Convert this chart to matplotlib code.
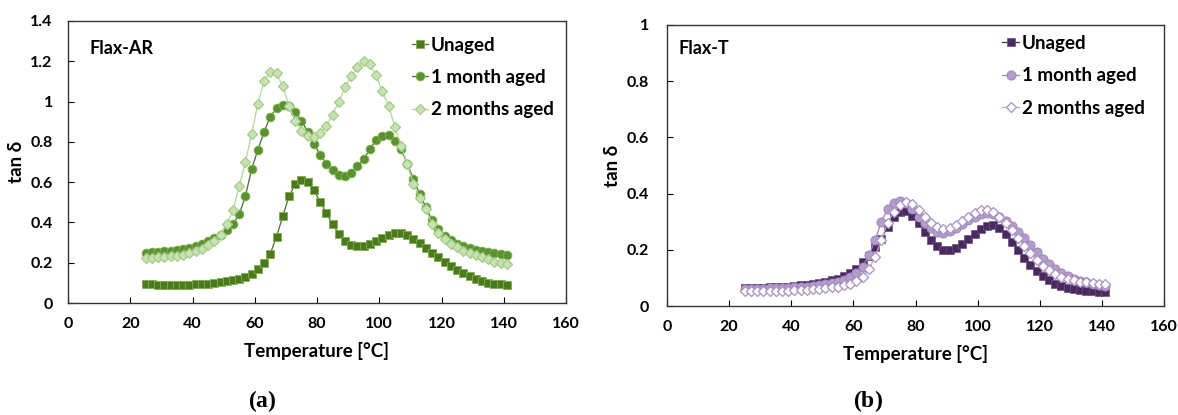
import matplotlib
matplotlib.use("Agg")
import matplotlib.pyplot as plt
from matplotlib.ticker import FuncFormatter

plt.rcParams['font.family'] = ['Lato', 'DejaVu Sans']
plt.rcParams['font.weight'] = 'bold'
plt.rcParams['mathtext.fontset'] = 'custom'
plt.rcParams['mathtext.rm'] = 'Liberation Serif'
plt.rcParams['mathtext.bf'] = 'Liberation Serif:bold'

# ---------------- data ----------------
temperature = [25, 27, 29, 31, 33, 35, 37, 39, 41, 43,
               45, 47, 49, 51, 53, 55, 57, 59, 61, 63,
               65, 67, 69, 71, 73, 75, 77, 79, 81, 83,
               85, 87, 89, 91, 93, 95, 97, 99, 101, 103,
               105, 107, 109, 111, 113, 115, 117, 119, 121, 123,
               125, 127, 129, 131, 133, 135, 137, 139, 141]

ar_unaged = [0.092, 0.092, 0.091, 0.091, 0.091, 0.090, 0.090, 0.091, 0.092, 0.093,
             0.095, 0.098, 0.102, 0.108, 0.114, 0.121, 0.130, 0.143, 0.168, 0.200,
             0.245, 0.330, 0.430, 0.530, 0.590, 0.613, 0.603, 0.560, 0.503, 0.447,
             0.390, 0.345, 0.309, 0.289, 0.281, 0.282, 0.293, 0.307, 0.322, 0.337,
             0.348, 0.349, 0.337, 0.318, 0.296, 0.274, 0.248, 0.228, 0.205, 0.185,
             0.165, 0.148, 0.133, 0.120, 0.109, 0.100, 0.094, 0.092, 0.090]

ar_1month = [0.250, 0.252, 0.254, 0.257, 0.260, 0.264, 0.269, 0.275, 0.283, 0.293,
             0.308, 0.322, 0.340, 0.362, 0.390, 0.440, 0.530, 0.665, 0.760, 0.850,
             0.925, 0.966, 0.985, 0.978, 0.948, 0.905, 0.850, 0.790, 0.737, 0.692,
             0.660, 0.637, 0.632, 0.645, 0.678, 0.715, 0.763, 0.810, 0.830, 0.832,
             0.805, 0.765, 0.690, 0.615, 0.540, 0.475, 0.410, 0.365, 0.335, 0.312,
             0.295, 0.281, 0.271, 0.263, 0.257, 0.252, 0.248, 0.244, 0.238]

ar_2months = [0.225, 0.225, 0.226, 0.228, 0.231, 0.235, 0.240, 0.248, 0.258, 0.270,
              0.287, 0.310, 0.340, 0.390, 0.460, 0.580, 0.700, 0.840, 0.990, 1.100,
              1.148, 1.140, 1.075, 0.980, 0.905, 0.855, 0.828, 0.822, 0.845, 0.880,
              0.935, 1.000, 1.070, 1.125, 1.170, 1.200, 1.185, 1.130, 1.050, 0.980,
              0.875, 0.780, 0.690, 0.590, 0.520, 0.465, 0.390, 0.350, 0.320, 0.295,
              0.276, 0.260, 0.247, 0.236, 0.226, 0.216, 0.206, 0.199, 0.195]

t_unaged = [0.063, 0.064, 0.064, 0.065, 0.066, 0.067, 0.068, 0.069, 0.071, 0.073,
            0.076, 0.079, 0.083, 0.087, 0.091, 0.097, 0.105, 0.118, 0.133, 0.155,
            0.178, 0.210, 0.240, 0.280, 0.318, 0.336, 0.337, 0.322, 0.295, 0.265,
            0.235, 0.213, 0.200, 0.198, 0.207, 0.222, 0.240, 0.258, 0.273, 0.284,
            0.288, 0.279, 0.255, 0.229, 0.200, 0.171, 0.145, 0.123, 0.106, 0.092,
            0.080, 0.070, 0.064, 0.060, 0.057, 0.054, 0.052, 0.050, 0.049]

t_1month = [0.062, 0.062, 0.062, 0.062, 0.063, 0.063, 0.064, 0.065, 0.066, 0.067,
            0.069, 0.071, 0.074, 0.077, 0.081, 0.086, 0.093, 0.102, 0.117, 0.140,
            0.180, 0.235, 0.300, 0.345, 0.366, 0.375, 0.366, 0.346, 0.318, 0.295,
            0.277, 0.265, 0.261, 0.266, 0.278, 0.292, 0.306, 0.318, 0.326, 0.330,
            0.328, 0.318, 0.302, 0.285, 0.265, 0.242, 0.217, 0.192, 0.168, 0.148,
            0.131, 0.117, 0.105, 0.096, 0.090, 0.085, 0.080, 0.076, 0.072]

t_2months = [0.054, 0.054, 0.054, 0.054, 0.054, 0.054, 0.055, 0.055, 0.056, 0.057,
             0.058, 0.060, 0.062, 0.064, 0.066, 0.069, 0.073, 0.079, 0.088, 0.104,
             0.130, 0.175, 0.235, 0.295, 0.335, 0.360, 0.370, 0.362, 0.340, 0.315,
             0.295, 0.280, 0.273, 0.276, 0.288, 0.303, 0.318, 0.332, 0.342, 0.343,
             0.335, 0.318, 0.296, 0.270, 0.242, 0.214, 0.187, 0.163, 0.143, 0.127,
             0.114, 0.104, 0.097, 0.091, 0.087, 0.084, 0.082, 0.080, 0.078]

series_labels = ["Unaged", "1 month aged", "2 months aged"]
x_ticks = [0, 20, 40, 60, 80, 100, 120, 140, 160]
y_ticks_a = [0, 0.2, 0.4, 0.6, 0.8, 1.0, 1.2, 1.4]
y_ticks_b = [0, 0.2, 0.4, 0.6, 0.8, 1.0]

# ---------------- figure ----------------
W, H = 1178, 415
fig = plt.figure(figsize=(W / 100, H / 100), dpi=100)

def px_axes(l, t, r, b):
    return fig.add_axes([l / W, (H - b) / H, (r - l) / W, (b - t) / H])

ax_a = px_axes(68, 21, 566, 303)
ax_b = px_axes(667, 25, 1164, 306)

styles_a = [
    dict(marker='s', ms=5.8, mfc='#4a7a1c', mec='#7fae52', mew=0.6, color='#4d6b35', lw=0.9),
    dict(marker='o', ms=6.3, mfc='#5b9130', mec='#7db24e', mew=0.6, color='#4d6b35', lw=0.9),
    dict(marker='D', ms=4.8, mfc='#c9e2b3', mec='#a3cc85', mew=0.9, color='#b2d698', lw=0.9),
]
styles_b = [
    dict(marker='s', ms=5.8, mfc='#4a2a5e', mec='#6d4f82', mew=0.5, color='#4a2a5e', lw=0.9),
    dict(marker='o', ms=6.6, mfc='#b39dcb', mec='#9c83b8', mew=0.6, color='#9c83b8', lw=0.9),
    dict(marker='D', ms=4.8, mfc='#ffffff', mec='#a891c2', mew=0.9, color='#b9a7d0', lw=0.9),
]

def tick_fmt(v, pos):
    return '%g' % round(v, 2)

def style_axes(ax, yticks, ymax, ypad):
    ax.set_xlim(0, 160)
    ax.set_ylim(0, ymax)
    ax.set_xticks(x_ticks)
    ax.set_yticks(yticks)
    ax.yaxis.set_major_formatter(FuncFormatter(tick_fmt))
    ax.tick_params(direction='in', length=4, width=0.8, labelsize=11.5,
                   colors='black')
    ax.tick_params(axis='x', pad=10)
    ax.tick_params(axis='y', pad=ypad)
    for lab in ax.get_xticklabels() + ax.get_yticklabels():
        lab.set_fontweight('bold')
    for sp in ax.spines.values():
        sp.set_linewidth(1.0)
        sp.set_color('#333333')
    ax.set_xlabel('Temperature [°C]', fontsize=13.5, fontweight='bold', labelpad=8)
    ax.set_ylabel('tan δ', fontsize=13.5, fontweight='bold', labelpad=4)

ys_a = [ar_unaged, ar_1month, ar_2months]
ys_b = [t_unaged, t_1month, t_2months]

handles_a = []
for y, st, lab in zip(ys_a, styles_a, series_labels):
    h, = ax_a.plot(temperature, y, label=lab, **st)
    handles_a.append(h)
handles_b = []
for y, st, lab in zip(ys_b, styles_b, series_labels):
    h, = ax_b.plot(temperature, y, label=lab, **st)
    handles_b.append(h)

style_axes(ax_a, y_ticks_a, 1.4, 11)
style_axes(ax_b, y_ticks_b, 1.0, 13)

ax_a.text(0.043, 0.903, 'Flax-AR', transform=ax_a.transAxes, fontsize=13,
          fontweight='bold', va='center', ha='left')
ax_b.text(0.024, 0.915, 'Flax-T', transform=ax_b.transAxes, fontsize=13,
          fontweight='bold', va='center', ha='left')

leg_kw = dict(frameon=False, loc='upper left', borderaxespad=0, borderpad=0,
              handlelength=0.9, handletextpad=0.12, labelspacing=0.82,
              prop=dict(family=['Lato', 'DejaVu Sans'], weight='bold', size=13.5))
ax_a.legend(handles=handles_a, bbox_to_anchor=(0.69, 0.945), **leg_kw)
ax_b.legend(handles=handles_b, bbox_to_anchor=(0.675, 0.965), **leg_kw)

fig.text(262 / W, 1 - 401 / H, r'($\mathbf{a}$)', ha='center', va='center',
         fontsize=17, family='Liberation Serif')
fig.text(868 / W, 1 - 401 / H, r'($\mathbf{b}$)', ha='center', va='center',
         fontsize=17, family='Liberation Serif')

fig.savefig('out.png', dpi=100, facecolor='white')
